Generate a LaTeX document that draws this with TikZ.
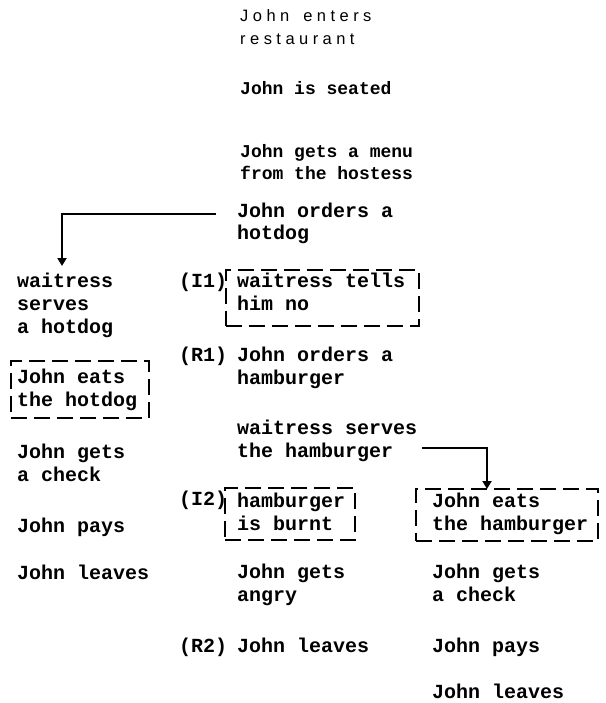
\documentclass[tikz,border=0pt]{standalone}
\usepackage{fontspec}
\newfontfamily\tw{Liberation Mono}
\newfontfamily\headf{Liberation Sans}[LetterSpace=27]
\usetikzlibrary{arrows.meta,calc}
\begin{document}
\begin{tikzpicture}[x=1pt,y=-1pt,
  txt/.style={anchor=base west, inner sep=0pt, align=left, font=\tw\bfseries\fontsize{20}{23}\selectfont},
  txtsmall/.style={txt, font=\tw\bfseries\fontsize{18}{22}\selectfont},
  txttop/.style={txt, font=\tw\bfseries\fontsize{20}{22}\selectfont},
  head/.style={anchor=base west, inner sep=0pt, align=left, font=\headf\fontsize{16.5}{23}\selectfont},
  dbox/.style={draw, line width=1.5pt, dash pattern=on 16pt off 7pt, anchor=north west, inner sep=0pt},
  arr/.style={line width=2pt, -{Triangle[length=8pt,width=9pt]}}]
\useasboundingbox[fill=white] (0,0) rectangle (605,703);
% (positions are the baselines of the last lines)
% top column
\node[head] (enter) at (240,45) {John\hspace{5pt} enters\\restaurant};
\node[txtsmall] (seated) at (240,95) {John is seated};
\node[txtsmall] (menu) at (240,180) {John gets a menu\\from the hostess};
\node[txttop] (ordhd) at (237,240) {John orders a\\hotdog};
% left column
\node[txt] (serveh) at (17,333) {waitress\\serves\\a hotdog};
\node[dbox, minimum width=138pt, minimum height=57pt] (eathbox) at (10,360) {};
\node[txt] (eath) at (17,406) {John eats\\the hotdog};
\node[txt] (checkL) at (17,481) {John gets\\a check};
\node[txt] (paysL) at (17,532) {John pays};
\node[txt] (leavesL) at (17,579) {John leaves};
% middle column
\node[txt] (lI1) at (179,287) {(I1)};
\node[dbox, minimum width=193pt, minimum height=56pt] (nobox) at (225,269) {};
\node[txt] (no) at (237,310) {waitress tells\\him no};
\node[txt] (lR1) at (179,361) {(R1)};
\node[txt] (ordhb) at (237,384) {John orders a\\hamburger};
\node[txt] (serveb) at (237,457) {waitress serves\\the hamburger};
\node[txt] (lI2) at (179,505) {(I2)};
\node[dbox, minimum width=130pt, minimum height=52pt] (burntbox) at (224,487) {};
\node[txt] (burnt) at (237,530) {hamburger\\is burnt};
\node[txt] (angry) at (237,601) {John gets\\angry};
\node[txt] (lR2) at (179,652) {(R2)};
\node[txt] (leavesM) at (237,652) {John leaves};
% right column
\node[dbox, minimum width=182pt, minimum height=52pt] (eatbbox) at (415,488) {};
\node[txt] (eatb) at (432,530) {John eats\\the hamburger};
\node[txt] (checkR) at (432,601) {John gets\\a check};
\node[txt] (paysR) at (432,652) {John pays};
\node[txt] (leavesR) at (432,698) {John leaves};
% connectors
\coordinate (a1s) at ($(ordhd.base west)+(-21,-26)$);
\coordinate (a1e) at ($(serveh.base west)+(45,-67)$);
\draw[arr] (a1s) -| (a1e);
\coordinate (a2s) at ($(serveb.base west)+(185,-9)$);
\coordinate (a2e) at ($(eatbbox.north west)+(72,1)$);
\draw[arr] (a2s) -| (a2e);
\end{tikzpicture}
\end{document}
